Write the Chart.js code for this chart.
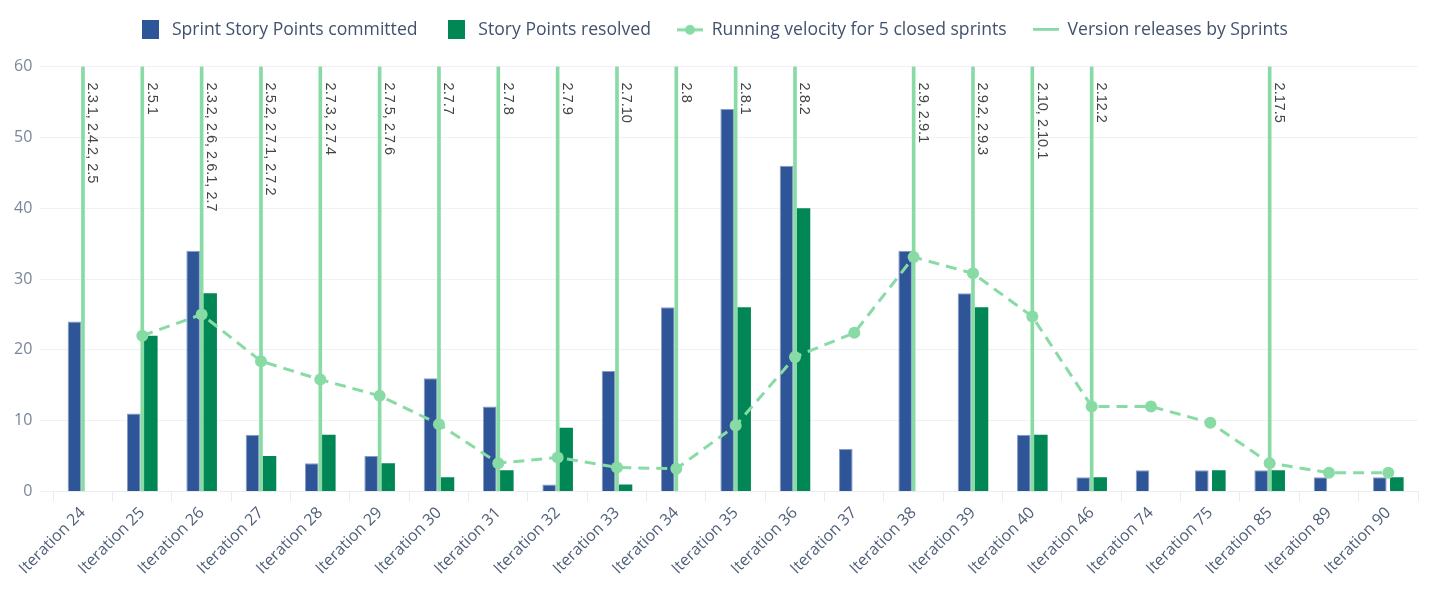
<!DOCTYPE html>
<html>
<head>
<meta charset="utf-8">
<script src="https://cdn.jsdelivr.net/npm/chart.js@4.4.1/dist/chart.umd.min.js"></script>
<style>
  html, body { margin: 0; padding: 0; background: #fff; }
  #wrap { width: 1434px; height: 600px; }
</style>
</head>
<body>
<div id="wrap"><canvas id="myChart"></canvas></div>
<script>
const sprints = ['Iteration 24', 'Iteration 25', 'Iteration 26', 'Iteration 27', 'Iteration 28', 'Iteration 29',
  'Iteration 30', 'Iteration 31', 'Iteration 32', 'Iteration 33', 'Iteration 34', 'Iteration 35', 'Iteration 36',
  'Iteration 37', 'Iteration 38', 'Iteration 39', 'Iteration 40', 'Iteration 46', 'Iteration 74', 'Iteration 75',
  'Iteration 85', 'Iteration 89', 'Iteration 90'];
const committed = [24, 11, 34, 8, 4, 5, 16, 12, 1, 17, 26, 54, 46, 6, 34, 28, 8, 2, 3, 3, 3, 2, 2];
const resolved = [null, 22, 28, 5, 8, 4, 2, 3, 9, 1, null, 26, 40, null, null, 26, 8, 2, null, 3, 3, null, 2];
const velocity = [null, 22, 25, 18.4, 15.8, 13.5, 9.5, 4.0, 4.8, 3.4, 3.2, 9.3, 19.0, 22.4, 33.1, 30.8, 24.7,
  12.0, 12.0, 9.7, 4.0, 2.65, 2.65];
const releases = ['2.3.1, 2.4.2, 2.5', '2.5.1', '2.3.2, 2.6, 2.6.1, 2.7', '2.5.2, 2.7.1, 2.7.2', '2.7.3, 2.7.4',
  '2.7.5, 2.7.6', '2.7.7', '2.7.8', '2.7.9', '2.7.10', '2.8', '2.8.1', '2.8.2', '', '2.9, 2.9.1', '2.9.2, 2.9.3',
  '2.10, 2.10.1', '2.12.2', '', '', '2.17.5', '', ''];
const yMax = 60;

const blue = '#2e5597';
const green = '#008755';
const mint = '#88dba5';
const gridColor = '#f0f1f4';
const fontFamily = '"Open Sans", "Noto Sans", sans-serif';

// legend icons
function icon(w, h, draw) {
  const c = document.createElement('canvas');
  c.width = w; c.height = h;
  draw(c.getContext('2d'));
  return c;
}
const icons = [
  icon(17, 19, function(ctx) { ctx.fillStyle = blue; ctx.fillRect(0, 0, 17, 19); }),
  icon(17, 19, function(ctx) { ctx.fillStyle = green; ctx.fillRect(0, 0, 17, 19); }),
  icon(26, 12, function(ctx) {
    ctx.strokeStyle = mint; ctx.lineWidth = 3;
    ctx.beginPath(); ctx.moveTo(0, 6); ctx.lineTo(26, 6); ctx.stroke();
    ctx.fillStyle = mint; ctx.beginPath(); ctx.arc(13, 6, 5, 0, Math.PI * 2); ctx.fill();
  }),
  icon(26, 4, function(ctx) { ctx.fillStyle = mint; ctx.fillRect(0, 0, 26, 3); })
];

// extra room under the legend
const legendGap = {
  id: 'legendGap',
  afterInit(chart) {
    const legend = chart.legend;
    const fit = legend.fit;
    legend.fit = function() {
      fit.call(legend);
      legend.height += 18;
    };
  }
};

// rotated release names next to each release line
const releaseLabels = {
  id: 'releaseLabels',
  afterDatasetsDraw(chart) {
    const ctx = chart.ctx;
    const meta = chart.getDatasetMeta(2);
    const top = chart.chartArea.top;
    ctx.save();
    ctx.font = '14.5px "Liberation Sans", Arial, sans-serif';
    ctx.fillStyle = '#444';
    ctx.textAlign = 'left';
    ctx.textBaseline = 'bottom';
    for (let i = 0; i < releases.length; i++) {
      if (!releases[i]) continue;
      const x = meta.data[i].x;
      ctx.save();
      ctx.translate(x + 2, top + 16);
      ctx.rotate(Math.PI / 2);
      ctx.fillText(releases[i], 0, 0);
      ctx.restore();
    }
    ctx.restore();
  }
};

const ctx = document.getElementById('myChart').getContext('2d');
const myChart = new Chart(ctx, {
  type: 'bar',
  data: {
    labels: sprints,
    datasets: [{
      label: 'Sprint Story Points committed',
      data: committed,
      backgroundColor: blue,
      borderColor: '#8a9cc4',
      borderWidth: 1,
      categoryPercentage: 0.573,
      barPercentage: 0.8,
      order: 3
    }, {
      label: 'Story Points resolved',
      data: resolved,
      backgroundColor: green,
      borderWidth: 0,
      categoryPercentage: 0.573,
      barPercentage: 0.8,
      order: 3
    }, {
      label: 'Version releases by Sprints',
      data: releases.map(function(r) { return r ? [0, yMax] : null; }),
      backgroundColor: mint,
      borderWidth: 0,
      barThickness: 3,
      grouped: false,
      order: 2
    }, {
      type: 'line',
      label: 'Running velocity for 5 closed sprints',
      data: velocity,
      borderColor: mint,
      backgroundColor: mint,
      borderWidth: 3,
      borderDash: [11, 7],
      pointRadius: 6,
      pointBorderWidth: 0,
      pointBackgroundColor: mint,
      tension: 0,
      order: 1
    }]
  },
  options: {
    responsive: true,
    maintainAspectRatio: false,
    animation: false,
    layout: { padding: { top: -5, left: 7, right: 16, bottom: 20 } },
    plugins: {
      tooltip: { enabled: false },
      legend: {
        labels: {
          usePointStyle: true,
          pointStyleWidth: 26,
          padding: 26,
          color: '#42526e',
          font: { family: fontFamily, size: 17.6 },
          sort: function(a, b) { return a.datasetIndex - b.datasetIndex; },
          generateLabels: function(chart) {
            const items = Chart.defaults.plugins.legend.labels.generateLabels(chart);
            // legend order: committed, resolved, velocity, releases
            const legendOrder = [0, 1, 3, 2];
            items.forEach(function(item) {
              const pos = legendOrder[item.datasetIndex];
              item.pointStyle = icons[pos];
              item.datasetIndex = pos;
            });
            return items;
          }
        }
      }
    },
    scales: {
      x: {
        grid: { drawOnChartArea: false, color: '#ebecf0', tickLength: 10, offset: true },
        border: { color: '#ebecf0' },
        afterFit: function(scale) { scale.paddingLeft = 0; },
        ticks: {
          autoSkip: false, maxRotation: 45, minRotation: 45, padding: 2,
          color: '#505f79', font: { family: fontFamily, size: 16 }
        }
      },
      y: {
        min: 0, max: yMax,
        border: { display: false },
        grid: { color: gridColor, tickLength: 14 },
        ticks: { stepSize: 10, padding: 7, color: '#7a869a', font: { family: fontFamily, size: 16 } }
      }
    }
  },
  plugins: [legendGap, releaseLabels]
});
</script>
</body>
</html>
